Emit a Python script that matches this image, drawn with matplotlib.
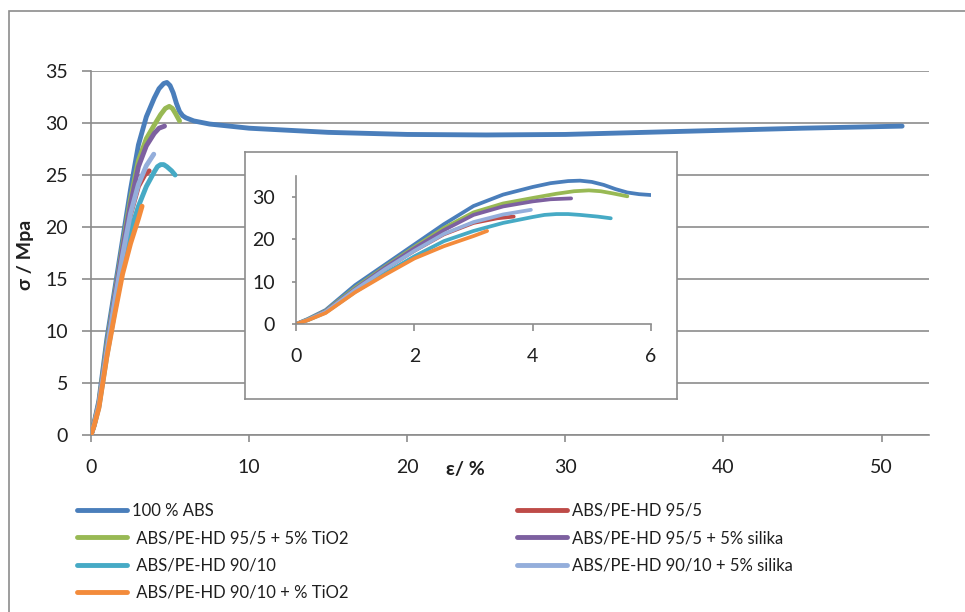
import matplotlib
matplotlib.use("Agg")
import matplotlib.pyplot as plt
from matplotlib.patches import Rectangle

plt.rcParams['font.family'] = ['Lato', 'DejaVu Sans']

# strain (%) / stress (MPa)
abs100_x = [0, 0.2, 0.5, 1.0, 1.5, 2.0, 2.5, 3.0, 3.5, 4.0, 4.3, 4.6, 4.8, 5.0, 5.2, 5.4, 5.6, 5.8, 6.0, 6.5, 7.5, 10, 15, 20, 25, 30, 35, 40, 45, 51.3]
abs100_y = [0, 1.2, 3.3, 9.2, 14.0, 18.8, 23.6, 27.9, 30.6, 32.4, 33.3, 33.8, 33.9, 33.6, 32.9, 31.9, 31.1, 30.7, 30.5, 30.2, 29.9, 29.5, 29.1, 28.9, 28.85, 28.9, 29.1, 29.3, 29.5, 29.7]

pe95_x = [0, 0.2, 0.5, 1.0, 1.5, 2.0, 2.5, 3.0, 3.4, 3.68]
pe95_y = [0, 1.0, 2.9, 8.1, 12.9, 17.3, 21.2, 23.9, 25.0, 25.4]

pe95_tio2_x = [0, 0.2, 0.5, 1.0, 1.5, 2.0, 2.5, 3.0, 3.5, 4.0, 4.4, 4.7, 4.95, 5.15, 5.35, 5.6]
pe95_tio2_y = [0, 1.1, 3.1, 8.6, 13.5, 18.2, 22.7, 26.4, 28.5, 29.8, 30.8, 31.4, 31.6, 31.4, 30.9, 30.2]

pe95_sil_x = [0, 0.2, 0.5, 1.0, 1.5, 2.0, 2.5, 3.0, 3.5, 4.0, 4.3, 4.65]
pe95_sil_y = [0, 1.0, 3.0, 8.3, 13.3, 17.9, 22.2, 25.8, 27.8, 29.0, 29.5, 29.7]

pe90_x = [0, 0.2, 0.5, 1.0, 1.5, 2.0, 2.5, 3.0, 3.5, 4.0, 4.2, 4.4, 4.6, 4.8, 5.1, 5.32]
pe90_y = [0, 0.9, 2.7, 7.6, 11.9, 16.0, 19.6, 22.0, 23.9, 25.3, 25.8, 26.0, 26.0, 25.8, 25.4, 25.0]

pe90_sil_x = [0, 0.2, 0.5, 1.0, 1.5, 2.0, 2.5, 3.0, 3.5, 3.97]
pe90_sil_y = [0, 1.0, 2.9, 8.1, 12.9, 17.3, 21.3, 24.1, 25.9, 27.0]

pe90_tio2_x = [0, 0.2, 0.5, 1.0, 1.5, 2.0, 2.5, 3.0, 3.23]
pe90_tio2_y = [0, 0.9, 2.6, 7.5, 11.6, 15.5, 18.4, 20.8, 22.0]

series = [
    (abs100_x, abs100_y, '#4a7ebb', '100 % ABS'),
    (pe95_x, pe95_y, '#be4b48', 'ABS/PE-HD 95/5'),
    (pe95_tio2_x, pe95_tio2_y, '#98b954', ' ABS/PE-HD 95/5 + 5% TiO2'),
    (pe95_sil_x, pe95_sil_y, '#7d60a0', 'ABS/PE-HD 95/5 + 5% silika'),
    (pe90_x, pe90_y, '#46aac5', ' ABS/PE-HD 90/10'),
    (pe90_sil_x, pe90_sil_y, '#94aedb', 'ABS/PE-HD 90/10 + 5% silika'),
    (pe90_tio2_x, pe90_tio2_y, '#f38b3b', ' ABS/PE-HD 90/10 + % TiO2'),
]

main_xticks = [0, 10, 20, 30, 40, 50]
main_yticks = [0, 5, 10, 15, 20, 25, 30, 35]
inset_xticks = [0, 2, 4, 6]
inset_yticks = [0, 10, 20, 30]

W, H = 965, 612
grey = '#8c8c8c'
txt = '#1f1f1f'

fig = plt.figure(figsize=(W / 100, H / 100), dpi=100)

# chart area border
fig.add_artist(Rectangle((9 / W, -0.1), 1.1, (H - 11) / H + 0.1, transform=fig.transFigure,
                         fill=False, edgecolor=grey, lw=1.2))

ax = fig.add_axes([91 / W, (H - 435) / H, (929 - 91) / W, (435 - 71) / H])
lines = []
for x, y, c, lab in series:
    ln, = ax.plot(x, y, color=c, lw=3.5, label=lab, solid_capstyle='round',
                  solid_joinstyle='round', zorder=3)
    lines.append(ln)

ax.set_xlim(0, 53)
ax.set_ylim(0, 35)
ax.set_xticks(main_xticks)
ax.set_yticks(main_yticks)
ax.grid(axis='y', color=grey, lw=1.2)
ax.set_axisbelow(True)
for s in ['top', 'right']:
    ax.spines[s].set_visible(False)
for s in ['left', 'bottom']:
    ax.spines[s].set_color(grey)
    ax.spines[s].set_linewidth(1.2)
ax.tick_params(axis='y', length=6.5, width=1.2, color=grey, pad=10, labelsize=14, labelcolor=txt)
ax.tick_params(axis='x', length=5, width=1.2, color=grey, pad=12, labelsize=14, labelcolor=txt)

fig.text(465 / W, 1 - 470 / H, 'ε/ %', fontsize=14, fontweight='bold', ha='center', va='center', color=txt)
fig.text(26 / W, 1 - 255 / H, 'σ / Mpa', fontsize=14, fontweight='bold', rotation=90,
         ha='center', va='center', color=txt)

# inset frame
frame = fig.add_axes([245 / W, (H - 399) / H, (677 - 245) / W, (399 - 152) / H])
frame.set_xticks([])
frame.set_yticks([])
frame.set_facecolor('white')
for s in frame.spines.values():
    s.set_color(grey)
    s.set_linewidth(1.2)

ins = fig.add_axes([296 / W, (H - 324) / H, (651 - 296) / W, (324 - 176) / H])
for x, y, c, lab in series:
    ins.plot(x, y, color=c, lw=2.7, solid_capstyle='round', solid_joinstyle='round')
ins.set_xlim(0, 6)
ins.set_ylim(0, 35)
ins.set_xticks(inset_xticks)
ins.set_yticks(inset_yticks)
ins.patch.set_alpha(0)
for s in ['top', 'right']:
    ins.spines[s].set_visible(False)
for s in ['left', 'bottom']:
    ins.spines[s].set_color(grey)
    ins.spines[s].set_linewidth(1.2)
ins.tick_params(axis='y', length=3, width=1.2, color=grey, pad=12, labelsize=14, labelcolor=txt)
ins.tick_params(axis='x', length=5, width=1.2, color=grey, pad=12, labelsize=14, labelcolor=txt)

# legend in two separate columns
col1 = [lines[0], lines[2], lines[4], lines[6]]
col2 = [lines[1], lines[3], lines[5]]
leg_kw = dict(loc='upper left', frameon=False, fontsize=12, handlelength=3.0, handletextpad=0.3,
              labelspacing=0.68, borderpad=0, borderaxespad=0, labelcolor=txt)
fig.legend(handles=col1, labels=[l.get_label() for l in col1],
           bbox_to_anchor=(77 / W, 1 - 503 / H), **leg_kw)
fig.legend(handles=col2, labels=[l.get_label() for l in col2],
           bbox_to_anchor=(517 / W, 1 - 503 / H), **leg_kw)

fig.savefig('out.png', dpi=100)
